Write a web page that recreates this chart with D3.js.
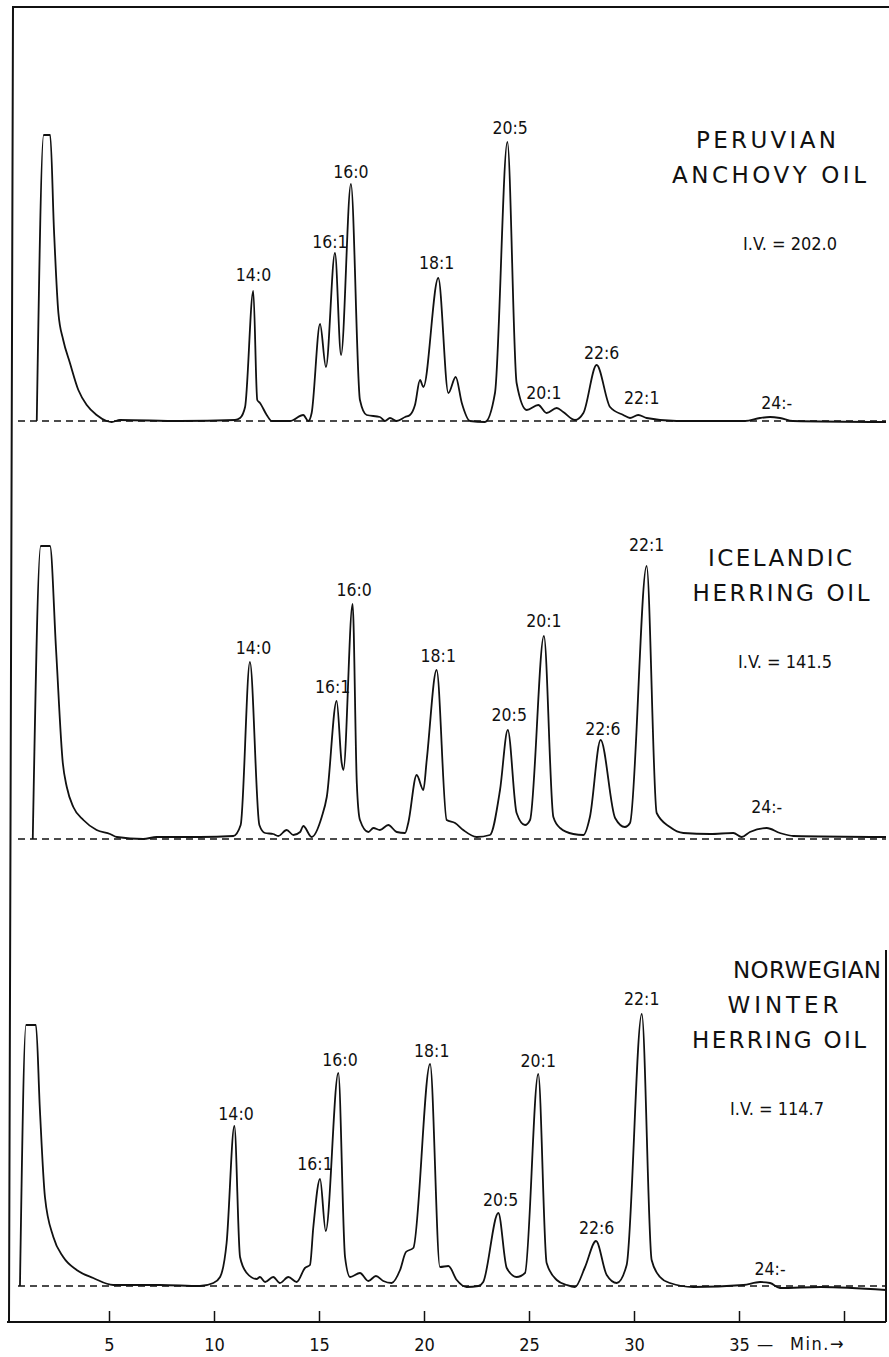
<!DOCTYPE html>
<html>
<head>
<meta charset="utf-8">
<script src="https://cdn.jsdelivr.net/npm/d3@7"></script>
<style>
  body { margin: 0; background: #fff; }
  svg { display: block; }
  .trace { fill: none; stroke: #111; stroke-width: 1.8; stroke-linejoin: round; }
  .base { stroke: #111; stroke-width: 1.3; stroke-dasharray: 7,5; }
  .frame { fill: none; stroke: #111; stroke-width: 2; }
  .peak { font-family: "DejaVu Sans Condensed", "DejaVu Sans", sans-serif; font-stretch: condensed; font-size: 17.5px; fill: #111; }
  .title { font-family: "DejaVu Sans", sans-serif; font-size: 23px; fill: #111; }
  .iv { font-family: "DejaVu Sans Condensed", "DejaVu Sans", sans-serif; font-stretch: condensed; font-size: 18px; fill: #111; }
  .unit { font-family: "DejaVu Sans Condensed", "DejaVu Sans", sans-serif; font-stretch: condensed; font-size: 18px; fill: #111; }
  .axis text { font-family: "DejaVu Sans Condensed", "DejaVu Sans", sans-serif; font-stretch: condensed; font-size: 18px; fill: #111; }
</style>
</head>
<body>
<div id="chart"></div>
<script>
// retention time (min) and detector signal
const peruvianTime = [1.56, 1.89, 2.20, 2.38, 2.59, 2.82, 3.14, 3.54, 3.94, 4.41, 4.89, 5.13, 5.52, 8.38, 11.0, 11.24, 11.48, 11.87, 12.06, 12.19, 12.51, 12.75, 13.62, 14.25, 14.49, 14.65, 15.05, 15.33, 15.76, 16.05, 16.52, 16.95, 17.27, 17.90, 18.14, 18.38, 18.70, 19.10, 19.33, 19.57, 19.81, 19.97, 20.68, 21.16, 21.51, 21.80, 22.19, 22.90, 23.38, 23.97, 24.41, 24.89, 25.44, 25.84, 26.32, 26.63, 27.19, 27.59, 28.22, 28.86, 29.49, 29.81, 30.20, 30.60, 32.03, 35.29, 36.0, 36.48, 36.95, 37.57, 42.0];
const peruvianSignal = [0, 286, 286, 191, 108, 81, 58, 31, 16, 6, 0, -1, 1, 0, 1, 3, 14, 130, 21, 18, 6, 0, 0, 6, 0, 8, 97, 54, 168, 66, 237, 21, 6, 4, 0, 3, 0, 4, 6, 16, 41, 34, 143, 28, 44, 18, 0, -1, 28, 279, 38, 11, 16, 8, 13, 9, 1, 8, 56, 14, 6, 3, 6, 3, 0, 0, 3, 4, 3, 0, -1];

const icelandicTime = [1.37, 1.75, 2.19, 2.48, 2.80, 2.99, 3.30, 3.78, 4.41, 5.05, 5.37, 6.63, 7.27, 9.33, 10.92, 11.27, 11.71, 12.16, 12.43, 12.82, 13.06, 13.46, 13.78, 14.10, 14.25, 14.65, 15.13, 15.37, 15.84, 16.08, 16.16, 16.60, 16.80, 16.95, 17.35, 17.59, 17.90, 18.30, 18.70, 19.10, 19.25, 19.65, 19.97, 20.13, 20.60, 21.08, 21.48, 21.87, 22.51, 23.14, 23.62, 23.99, 24.41, 24.81, 25.05, 25.71, 26.16, 26.48, 27.11, 27.59, 27.90, 28.41, 29.10, 29.57, 29.81, 30.60, 31.08, 31.71, 32.35, 33.62, 34.73, 35.13, 35.52, 36.32, 36.95, 37.59, 42.0];
const icelandicSignal = [0, 293, 293, 189, 76, 52, 32, 19, 9, 5, 2, 0, 2, 2, 3, 14, 177, 14, 6, 5, 3, 9, 4, 7, 13, 2, 22, 42, 138, 76, 69, 235, 56, 19, 7, 11, 9, 14, 7, 6, 16, 64, 49, 79, 169, 19, 16, 9, 2, 4, 49, 109, 26, 14, 19, 203, 22, 11, 5, 4, 22, 99, 21, 12, 16, 273, 26, 12, 6, 5, 6, 2, 7, 11, 6, 3, 2];

const norwegianTime = [0.76, 1.05, 1.52, 1.71, 1.95, 2.35, 2.82, 3.46, 4.25, 5.20, 7.43, 9.33, 9.97, 10.29, 10.60, 10.97, 11.24, 11.56, 12.03, 12.19, 12.43, 12.82, 13.14, 13.54, 13.94, 14.33, 14.57, 14.73, 15.05, 15.32, 15.92, 16.24, 16.48, 16.95, 17.35, 17.71, 18.06, 18.46, 18.86, 19.14, 19.49, 20.29, 20.76, 21.16, 21.56, 22.03, 22.59, 22.82, 23.54, 23.94, 24.41, 24.81, 25.44, 25.84, 26.32, 26.80, 27.19, 27.67, 28.19, 28.70, 29.18, 29.65, 30.37, 30.84, 31.24, 31.71, 32.82, 35.21, 36.0, 36.48, 36.95, 38.89, 42.0];
const norwegianSignal = [0, 261, 261, 176, 89, 49, 29, 16, 8, 1, 1, 0, 3, 9, 43, 160, 29, 13, 7, 9, 4, 9, 3, 9, 4, 18, 21, 59, 107, 55, 213, 29, 9, 13, 5, 10, 5, 3, 16, 34, 38, 222, 19, 20, 6, -1, 0, 4, 73, 18, 9, 13, 212, 23, 6, 1, -1, 19, 45, 11, 3, 21, 272, 26, 9, 3, -1, 1, 4, 3, -2, -1, -4];

// peak labels: name, time and height of the label's foot
const peruvianPeaks = ["14:0", "16:1", "16:0", "18:1", "20:5", "20:1", "22:6", "22:1", "24:-"];
const peruvianPeakTime = [11.88, 15.52, 16.52, 20.60, 24.10, 25.71, 28.46, 30.37, 36.80];
const peruvianPeakHeight = [140, 173, 243, 152, 287, 22, 62, 17, 12];

const icelandicPeaks = ["14:0", "16:1", "16:0", "18:1", "20:5", "20:1", "22:6", "22:1", "24:-"];
const icelandicPeakTime = [11.88, 15.65, 16.67, 20.68, 24.06, 25.71, 28.52, 30.60, 36.32];
const icelandicPeakHeight = [185, 146, 243, 177, 118, 212, 104, 288, 26];

const norwegianPeaks = ["14:0", "16:1", "16:0", "18:1", "20:5", "20:1", "22:6", "22:1", "24:-"];
const norwegianPeakTime = [11.05, 14.81, 16.0, 20.37, 23.65, 25.44, 28.22, 30.37, 36.48];
const norwegianPeakHeight = [166, 116, 220, 229, 80, 219, 52, 281, 11];

const peruvianTitle = ["PERUVIAN", "ANCHOVY OIL"];
const icelandicTitle = ["ICELANDIC", "HERRING OIL"];
const norwegianTitle = ["NORWEGIAN", "WINTER", "HERRING OIL"];
const iodineValues = ["I.V. = 202.0", "I.V. = 141.5", "I.V. = 114.7"];

const timeTicks = [5, 10, 15, 20, 25, 30, 35, 40];

const width = 889, height = 1357;

const svg = d3.select('#chart').append('svg')
  .attr('width', width)
  .attr('height', height);

const x = d3.scaleLinear().domain([0, 42]).range([4, 886]);

const panels = [
  { time: peruvianTime, signal: peruvianSignal, peaks: peruvianPeaks, peakT: peruvianPeakTime, peakH: peruvianPeakHeight,
    title: peruvianTitle, titleX: [766, 769], titleW: [140, 194], iv: iodineValues[0], ivX: 790, base: 421 },
  { time: icelandicTime, signal: icelandicSignal, peaks: icelandicPeaks, peakT: icelandicPeakTime, peakH: icelandicPeakHeight,
    title: icelandicTitle, titleX: [780, 781], titleW: [144, 177], iv: iodineValues[1], ivX: 785, base: 839 },
  { time: norwegianTime, signal: norwegianSignal, peaks: norwegianPeaks, peakT: norwegianPeakTime, peakH: norwegianPeakHeight,
    title: norwegianTitle, titleX: [807, 783, 779], titleW: [148, 111, 174], iv: iodineValues[2], ivX: 777, base: 1286 }
];

panels.forEach(p => {
  const y = d3.scaleLinear().domain([0, 300]).range([p.base, p.base - 300]);
  const g = svg.append('g');

  // dashed zero line
  g.append('line')
    .attr('class', 'base')
    .attr('x1', 18).attr('x2', 886)
    .attr('y1', y(0)).attr('y2', y(0));

  const pts = p.time.map((t, i) => [t, p.signal[i]]);
  const line = d3.line()
    .x(d => x(d[0]))
    .y(d => y(d[1]))
    .curve(d3.curveMonotoneX);

  g.append('path')
    .attr('class', 'trace')
    .attr('d', line(pts));

  g.selectAll('text.peak')
    .data(p.peaks)
    .join('text')
    .attr('class', 'peak')
    .attr('text-anchor', 'middle')
    .attr('x', (d, i) => x(p.peakT[i]))
    .attr('y', (d, i) => y(p.peakH[i]))
    .text(d => d);

  // sample name, last line sits 238px over the zero line
  const n = p.title.length;
  p.title.forEach((s, i) => {
    g.append('text')
      .attr('class', 'title')
      .attr('text-anchor', 'middle')
      .attr('x', p.titleX[i])
      .attr('y', p.base - 238 - (n - 1 - i) * 35)
      .attr('textLength', p.titleW[i])
      .attr('lengthAdjust', 'spacing')
      .text(s);
  });

  g.append('text')
    .attr('class', 'iv')
    .attr('text-anchor', 'middle')
    .attr('x', p.ivX)
    .attr('y', p.base - 171)
    .text(p.iv);
});

// frame
svg.append('path')
  .attr('class', 'frame')
  .attr('d', 'M889,7 L13,7 L9,1323');
svg.append('line')
  .attr('class', 'frame')
  .attr('x1', 886).attr('x2', 886)
  .attr('y1', 950).attr('y2', 1322);

const axis = d3.axisBottom(x)
  .tickValues(timeTicks)
  .tickSizeInner(-11)
  .tickSizeOuter(0)
  .tickPadding(16)
  .tickFormat(d => d === 40 ? '' : d);

const ax = svg.append('g')
  .attr('class', 'axis')
  .attr('transform', 'translate(0,1322)')
  .call(axis);
ax.select('.domain').attr('d', 'M7,0H886').attr('stroke', '#111').attr('stroke-width', 2);
ax.selectAll('.tick line').attr('stroke', '#111').attr('stroke-width', 1.5);

const unit = svg.append('text')
  .attr('class', 'unit')
  .attr('y', 1350);
unit.append('tspan').attr('x', 757).text('—');
unit.append('tspan').attr('x', 790).style('letter-spacing', '1.5px').text('Min.→');
</script>
</body>
</html>
